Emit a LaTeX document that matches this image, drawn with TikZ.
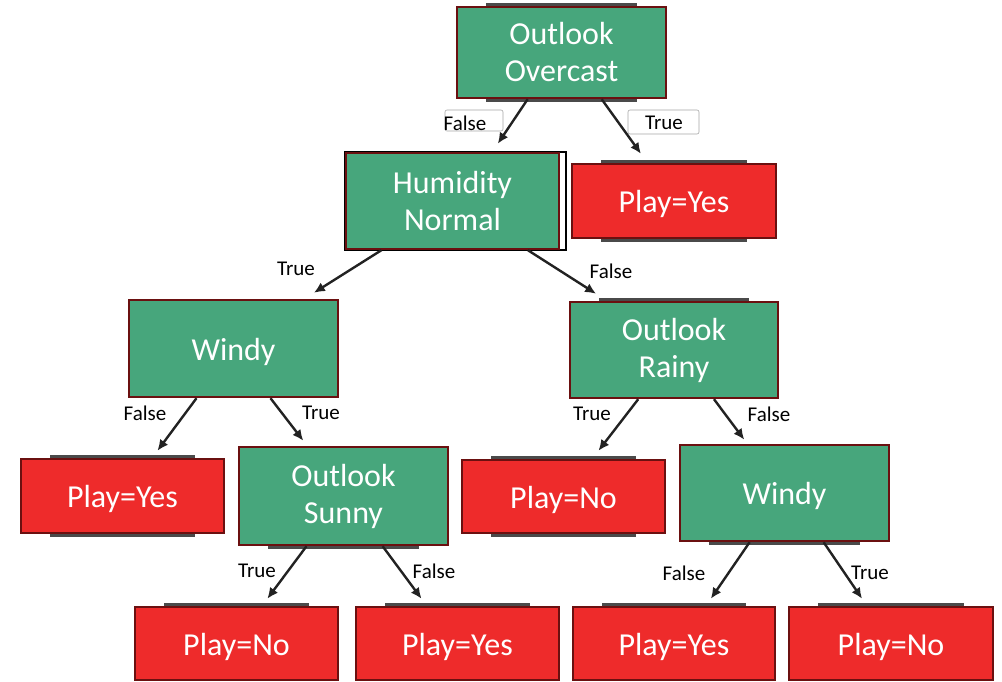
\documentclass[tikz,border=0pt]{standalone}
\usepackage{fontspec}
\setmainfont{Carlito}
\usetikzlibrary{calc,arrows.meta,backgrounds}

\definecolor{gfill}{HTML}{47A67C}
\definecolor{rfill}{HTML}{EE2B2B}
\definecolor{bord}{HTML}{6B1010}
\definecolor{arrc}{HTML}{222222}
\definecolor{barc}{HTML}{4A4A4A}

\tikzset{
  box/.style={draw=bord, line width=2.4pt, text=white, align=center,
    inner sep=0pt, font=\fontsize{32}{37}\selectfont},
  gbox/.style={box, fill=gfill},
  rbox/.style={box, fill=rfill},
  oneline/.style={text height=24pt, text depth=1pt},
  edge/.style={draw=arrc, line width=2.4pt, -{Latex[length=11pt,width=10pt]}},
  lbl/.style={font=\fontsize{21}{25}\selectfont, inner sep=0pt, text=black},
  lblframe/.style={draw=black!35, line width=0.6pt, fill=white, rounded corners=2pt},
}

% dark bars peeking out above / below a box
\newcommand\nodebartop[1]{\fill[barc] ($(#1.north west)+(30,-3)$) rectangle ($(#1.north east)+(-30,0)$);}
\newcommand\nodebarbot[1]{\fill[barc] ($(#1.south west)+(30,3)$) rectangle ($(#1.south east)+(-30,0)$);}

\begin{document}
\begin{tikzpicture}[x=1pt, y=-1pt]
\useasboundingbox (0,0) rectangle (1002,682);

% ---------- label frames ----------
\draw[lblframe] (445,110) rectangle (503,131);
\draw[lblframe] (628,110) rectangle (699,134);

% ---------- nodes ----------
\node[gbox, minimum width=209pt, minimum height=91pt] (ovc) at (561.5,52.5) {Outlook\\Overcast};
\node[gbox, minimum width=213pt, minimum height=96pt] (hum) at (452.5,201) {Humidity\\Normal};
\node[rbox, oneline, minimum width=204pt, minimum height=74pt] (pyA) at (674,201) {Play=Yes};

\node[gbox, oneline, minimum width=209pt, minimum height=97pt] (wnA) at (233.5,348.5) {Windy};
\node[gbox, minimum width=208pt, minimum height=96pt] (rny) at (674,350) {Outlook\\Rainy};

\node[rbox, oneline, minimum width=203pt, minimum height=74pt] (pyB) at (122.5,496) {Play=Yes};
\node[gbox, minimum width=209pt, minimum height=98pt] (sny) at (343.5,496) {Outlook\\Sunny};
\node[rbox, oneline, minimum width=203pt, minimum height=73pt] (pnA) at (563.5,496.5) {Play=No};
\node[gbox, oneline, minimum width=209pt, minimum height=96pt] (wnB) at (784.5,493) {Windy};

\node[rbox, oneline, minimum width=203pt, minimum height=73pt] (pnB) at (236.5,643.5) {Play=No};
\node[rbox, oneline, minimum width=203pt, minimum height=73pt] (pyC) at (457.5,643.5) {Play=Yes};
\node[rbox, oneline, minimum width=202pt, minimum height=73pt] (pyD) at (674,643.5) {Play=Yes};
\node[rbox, oneline, minimum width=204pt, minimum height=73pt] (pnC) at (891,643.5) {Play=No};

% ---------- shapes lying behind the boxes ----------
\begin{scope}[on background layer]
  \nodebartop{ovc} \nodebarbot{ovc}
  \nodebartop{pyA} \nodebarbot{pyA}
  \nodebartop{rny}
  \nodebartop{pyB} \nodebarbot{pyB}
  \nodebarbot{sny}
  \nodebartop{pnA} \nodebarbot{pnA}
  \nodebarbot{wnB}
  \nodebartop{pnB} \nodebartop{pyC} \nodebartop{pyD} \nodebartop{pnC}
  \draw[black, line width=1.5pt, fill=white] (hum.north west) rectangle ($(hum.south east)+(6,0)$);
\end{scope}

% ---------- connectors ----------
\draw[edge] ($(ovc.south west)!0.34!(ovc.south east)$) -- ($(hum.north west)!0.71!(hum.north east)+(0,-8)$);
\draw[edge] ($(ovc.south west)!0.69!(ovc.south east)$) -- ($(pyA.north west)!0.34!(pyA.north east)+(0,-9)$);

\draw[edge] ($(hum.south west)!0.17!(hum.south east)$) -- ($(wnA.north west)!0.88!(wnA.north east)+(0,-6)$);
\draw[edge] ($(hum.south west)!0.85!(hum.south east)$) -- ($(rny.north west)!0.13!(rny.north east)+(0,-7)$);

\draw[edge] ($(wnA.south west)!0.325!(wnA.south east)$) -- ($(pyB.north west)!0.67!(pyB.north east)+(0,-7)$);
\draw[edge] ($(wnA.south west)!0.675!(wnA.south east)$) -- ($(sny.north west)!0.31!(sny.north east)+(0,-5)$);

\draw[edge] ($(rny.south west)!0.33!(rny.south east)$) -- ($(pnA.north west)!0.67!(pnA.north east)+(0,-8)$);
\draw[edge] ($(rny.south west)!0.69!(rny.south east)$) -- ($(wnB.north west)!0.31!(wnB.north east)+(0,-4)$);

\draw[edge] ($(sny.south west)!0.325!(sny.south east)$) -- ($(pnB.north west)!0.65!(pnB.north east)+(0,-7)$);
\draw[edge] ($(sny.south west)!0.685!(sny.south east)$) -- ($(pyC.north west)!0.325!(pyC.north east)+(0,-7)$);

\draw[edge] ($(wnB.south west)!0.335!(wnB.south east)$) -- ($(pyD.north west)!0.68!(pyD.north east)+(0,-7)$);
\draw[edge] ($(wnB.south west)!0.685!(wnB.south east)$) -- ($(pnC.north west)!0.36!(pnC.north east)+(0,-7)$);

% ---------- edge labels ----------
\node[lbl] (l1) at (465,123) {False};
\node[lbl] (l2) at (664,123) {True};
\node[lbl] (l3) at (296,269) {True};
\node[lbl] (l4) at (611,271) {False};
\node[lbl] (l5) at (145,413) {False};
\node[lbl] (l6) at (321,413) {True};
\node[lbl] (l7) at (592,414) {True};
\node[lbl] (l8) at (769,414) {False};
\node[lbl] (l9) at (257,571) {True};
\node[lbl] (l10) at (434,571) {False};
\node[lbl] (l11) at (684,573) {False};
\node[lbl] (l12) at (870,573) {True};
\end{tikzpicture}
\end{document}
